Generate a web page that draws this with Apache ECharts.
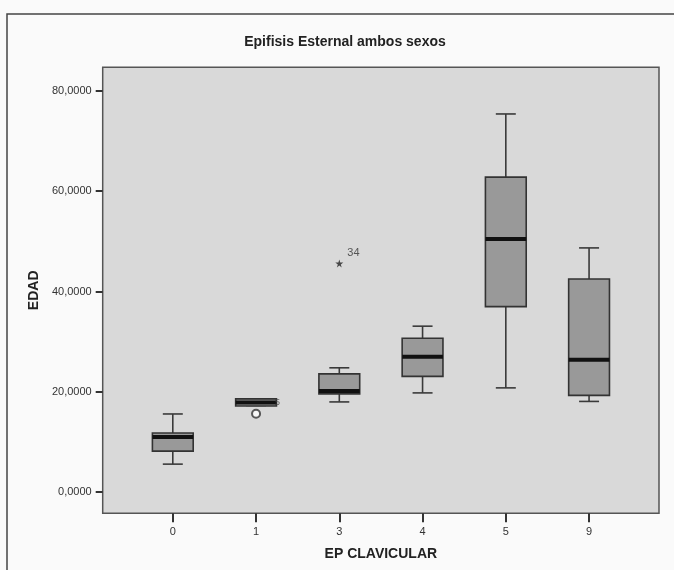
<!DOCTYPE html>
<html>
<head>
<meta charset="utf-8">
<script src="https://cdn.jsdelivr.net/npm/echarts@6/dist/echarts.min.js"></script>
<style>
html,body{margin:0;padding:0;background:#fafafa;}
#chart{width:674px;height:570px;}
</style>
</head>
<body>
<div id="chart"></div>
<script>
// ---- data ----
const categories   = ['0', '1', '3', '4', '5', '9'];
const whiskerLow   = [5.6, 17.3, 18.0, 19.8, 20.8, 18.1];
const quartile1    = [8.2, 17.2, 19.6, 23.1, 37.0, 19.3];
const medians      = [11.0, 17.9, 20.2, 27.0, 50.5, 26.4];
const quartile3    = [11.8, 18.6, 23.6, 30.7, 62.8, 42.5];
const whiskerHigh  = [15.6, 18.6, 24.8, 33.1, 75.4, 48.7];
// outliers (circle) and extremes (star)
const outlierIndex = [1];
const outlierValue = [15.65];
const extremeIndex = [2];
const extremeValue = [45.6];
const extremeLabel = ['34'];
const yTicks       = [0, 20, 40, 60, 80];
const yTickLabels  = ['0,0000', '20,0000', '40,0000', '60,0000', '80,0000'];

const boxData = categories.map((c, i) => [i, whiskerLow[i], quartile1[i], medians[i], quartile3[i], whiskerHigh[i]]);
const outlierData = outlierIndex.map((c, i) => [c, outlierValue[i]]);
const extremeData = extremeIndex.map((c, i) => ({value: [c, extremeValue[i]], name: extremeLabel[i]}));

const STAR = 'path://M50,0 L61,35 L98,35 L68,57 L79,91 L50,70 L21,91 L32,57 L2,35 L39,35 Z';

const chart = echarts.init(document.getElementById('chart'));
chart.setOption({
  backgroundColor: '#fafafa',
  animation: false,
  title: {
    text: 'Epifisis Esternal ambos sexos',
    left: 340, top: 30, textAlign: 'center',
    textStyle: {fontFamily: 'Liberation Sans', fontSize: 14, fontWeight: 'bold', color: '#222'}
  },
  graphic: [{
    type: 'rect', shape: {x: 7, y: 14, width: 700, height: 600},
    style: {fill: null, stroke: '#444', lineWidth: 1.5}, silent: true, z: -1
  }],
  grid: {
    left: 102.7, right: 15, top: 67.3, bottom: 56.7,
    show: true, backgroundColor: '#d9d9d9', borderColor: '#555', borderWidth: 1.5
  },
  xAxis: {
    type: 'value', min: -0.842, max: 5.84,
    name: 'EP CLAVICULAR', nameLocation: 'middle', nameGap: 34,
    nameTextStyle: {fontFamily: 'Liberation Sans', fontSize: 14, fontWeight: 'bold', color: '#222'},
    axisLine: {show: false, onZero: false},
    axisTick: {show: true, length: 9, customValues: categories.map((c, i) => i), lineStyle: {color: '#333', width: 2}},
    axisLabel: {customValues: categories.map((c, i) => i), formatter: v => categories[Math.round(v)],
      margin: 13, fontFamily: 'Liberation Sans', fontSize: 11, color: '#333'},
    splitLine: {show: false}
  },
  yAxis: {
    type: 'value', min: -4.2, max: 84.7,
    name: 'EDAD', nameLocation: 'middle', nameGap: 61, nameRotate: 90,
    nameTextStyle: {fontFamily: 'Liberation Sans', fontSize: 14, fontWeight: 'bold', color: '#222'},
    axisLine: {show: false, onZero: false},
    axisTick: {show: true, length: 7, customValues: yTicks, lineStyle: {color: '#333', width: 2}},
    axisLabel: {customValues: yTicks, formatter: v => yTickLabels[yTicks.indexOf(v)],
      margin: 11, fontFamily: 'Liberation Sans', fontSize: 11, color: '#333'},
    splitLine: {show: false}
  },
  series: [
    {
      type: 'scatter', z: 3,
      data: outlierData,
      symbol: 'emptyCircle', symbolSize: 8,
      itemStyle: {color: '#333', borderWidth: 2},
      label: {show: true, formatter: '5', position: 'right', offset: [9, -11],
        fontFamily: 'Liberation Sans', fontSize: 9, color: '#444'}
    },
    {
      type: 'scatter', z: 3,
      data: extremeData,
      symbol: STAR, symbolSize: 8,
      itemStyle: {color: '#222'},
      label: {show: true, formatter: p => p.name, position: 'right', offset: [-1, -10],
        fontFamily: 'Liberation Sans', fontSize: 11, color: '#333'}
    },
    {
      type: 'custom', z: 2,
      data: boxData,
      encode: {x: 0, y: [1, 2, 3, 4, 5]},
      renderItem: function (params, api) {
        const x = api.value(0);
        const pLow = api.coord([x, api.value(1)]);
        const pQ1 = api.coord([x, api.value(2)]);
        const pMed = api.coord([x, api.value(3)]);
        const pQ3 = api.coord([x, api.value(4)]);
        const pHigh = api.coord([x, api.value(5)]);
        const unit = api.size([1, 0])[0];
        const bw = unit * 0.49, cw = unit * 0.24;
        const cx = pLow[0];
        const ls = {stroke: '#3a3a3a', lineWidth: 1.6};
        return {
          type: 'group',
          children: [
            {type: 'line', shape: {x1: cx, y1: pHigh[1], x2: cx, y2: pQ3[1]}, style: ls},
            {type: 'line', shape: {x1: cx, y1: pLow[1], x2: cx, y2: pQ1[1]}, style: ls},
            {type: 'line', shape: {x1: cx - cw / 2, y1: pHigh[1], x2: cx + cw / 2, y2: pHigh[1]}, style: ls},
            {type: 'line', shape: {x1: cx - cw / 2, y1: pLow[1], x2: cx + cw / 2, y2: pLow[1]}, style: ls},
            {type: 'rect', shape: {x: cx - bw / 2, y: pQ3[1], width: bw, height: pQ1[1] - pQ3[1]},
              style: {fill: '#999999', stroke: '#333', lineWidth: 1.6}},
            {type: 'line', shape: {x1: cx - bw / 2, y1: pMed[1], x2: cx + bw / 2, y2: pMed[1]},
              style: {stroke: '#111', lineWidth: 4}}
          ]
        };
      }
    }
  ]
});
</script>
</body>
</html>
